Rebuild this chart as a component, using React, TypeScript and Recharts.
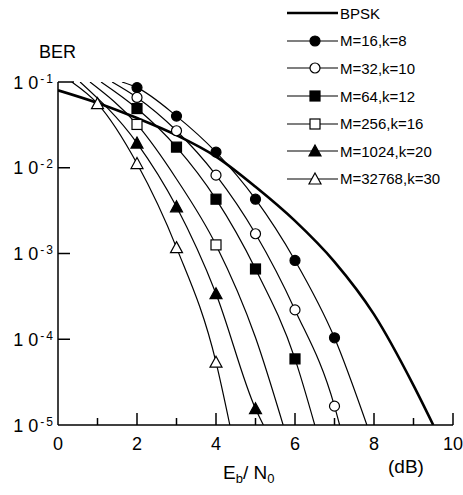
import { LineChart, Line, XAxis, YAxis, Legend } from 'recharts';

// BER vs Eb/N0 (log scale)
const FONT = '"Liberation Sans", Arial, Helvetica, sans-serif';

const xTicks = [0, 1, 2, 3, 4, 5, 6, 7, 8, 9, 10];
const yTicks = [1e-1, 1e-2, 1e-3, 1e-4, 1e-5];
const yTickExp = ['-1', '-2', '-3', '-4', '-5'];

const bpskX = [0, 1, 2, 3, 4, 5, 6, 7, 8, 9, 9.5];
const bpskBer = [0.08, 0.057, 0.038, 0.024, 0.0135, 0.006, 0.0024, 8e-4, 1.95e-4, 2.9e-5, 1e-5];

const m16X = [1.62, 2, 3, 4, 5, 6, 7, 7.82];
const m16Ber = [0.1, 0.086, 0.04, 0.0152, 0.0043, 8.3e-4, 1.04e-4, 1e-5];
const m16Marks = [2, 3, 4, 5, 6, 7];

const m32X = [1.37, 2, 3, 4, 5, 6, 7, 7.13];
const m32Ber = [0.1, 0.066, 0.027, 0.0082, 0.0017, 2.2e-4, 1.66e-5, 1e-5];
const m32Marks = [2, 3, 4, 5, 6, 7];

const m64X = [1.09, 2, 3, 4, 5, 6, 6.5];
const m64Ber = [0.1, 0.049, 0.0174, 0.0043, 6.6e-4, 5.9e-5, 1e-5];
const m64Marks = [2, 3, 4, 5, 6];

const m256X = [0.81, 2, 3, 4, 5, 5.7];
const m256Ber = [0.1, 0.032, 0.0074, 0.00126, 1.05e-4, 1e-5];
const m256Marks = [2, 4];

const m1024X = [0.56, 2, 3, 4, 5, 5.2];
const m1024Ber = [0.1, 0.0194, 0.0035, 3.4e-4, 1.55e-5, 1e-5];
const m1024Marks = [2, 3, 4, 5];

const m32768X = [0.35, 1, 2, 3, 4, 4.35];
const m32768Ber = [0.1, 0.056, 0.0112, 0.00117, 5.4e-5, 1e-5];
const m32768Marks = [1, 2, 3, 4];

type Shape = 'none' | 'circle' | 'square' | 'triangle';

const toRows = (xs: number[], ber: number[], marks: number[]) =>
  xs.map((x, i) => ({ x, y: ber[i], mark: marks.includes(x) }));

const series = [
  { name: 'BPSK', data: toRows(bpskX, bpskBer, []), shape: 'none' as Shape, filled: true, width: 2.6 },
  { name: 'M=16,k=8', data: toRows(m16X, m16Ber, m16Marks), shape: 'circle' as Shape, filled: true, width: 1.2 },
  { name: 'M=32,k=10', data: toRows(m32X, m32Ber, m32Marks), shape: 'circle' as Shape, filled: false, width: 1.2 },
  { name: 'M=64,k=12', data: toRows(m64X, m64Ber, m64Marks), shape: 'square' as Shape, filled: true, width: 1.2 },
  { name: 'M=256,k=16', data: toRows(m256X, m256Ber, m256Marks), shape: 'square' as Shape, filled: false, width: 1.2 },
  { name: 'M=1024,k=20', data: toRows(m1024X, m1024Ber, m1024Marks), shape: 'triangle' as Shape, filled: true, width: 1.2 },
  { name: 'M=32768,k=30', data: toRows(m32768X, m32768Ber, m32768Marks), shape: 'triangle' as Shape, filled: false, width: 1.2 },
];

const Marker = ({ cx, cy, shape, filled }: { cx: number; cy: number; shape: Shape; filled: boolean }) => {
  const fill = filled ? '#000' : '#fff';
  if (shape === 'circle') return <circle cx={cx} cy={cy} r={5} fill={fill} stroke="#000" strokeWidth={1.2} />;
  if (shape === 'square') return <rect x={cx - 5} y={cy - 5} width={10} height={10} fill={fill} stroke="#000" strokeWidth={1.2} />;
  if (shape === 'triangle')
    return <polygon points={`${cx},${cy - 6} ${cx + 6},${cy + 5} ${cx - 6},${cy + 5}`} fill={fill} stroke="#000" strokeWidth={1.2} />;
  return null;
};

const XTick = ({ x, y, payload }: any) => {
  const v = payload.value;
  const major = v % 2 === 0;
  return (
    <g>
      {v > 0 && <line x1={x} y1={y} x2={x} y2={y - (major ? 12 : 7)} stroke="#000" strokeWidth={1.5} />}
      {major && (
        <text x={x} y={y + 25} textAnchor="middle" fontSize={18} fontFamily={FONT} fill="#000">
          {v}
        </text>
      )}
    </g>
  );
};

const YTick = ({ x, y, index }: any) => (
  <g>
    {index < yTicks.length - 1 && (
      <line x1={x} y1={y} x2={x + (index === 0 ? 16 : 12)} y2={y} stroke="#000" strokeWidth={1.5} />
    )}
    <text x={x - 3} y={y + 6.5} textAnchor="end" fontFamily={FONT} fill="#000">
      <tspan fontSize={18}>1 0</tspan>
      <tspan fontSize={12} dy={-6} dx={2} letterSpacing={2}>
        {yTickExp[index]}
      </tspan>
    </text>
  </g>
);

const XLabel = ({ viewBox }: any) => {
  const { x, y } = viewBox;
  return (
    <g fontFamily={FONT} fill="#000">
      <text x={x + 165} y={y + 54} fontSize={19}>
        E<tspan fontSize={13} dy={4}>b</tspan>
        <tspan dy={-4}>/ N</tspan>
        <tspan fontSize={13} dy={4}>0</tspan>
      </text>
      <text x={x + 330} y={y + 48} fontSize={19}>(dB)</text>
    </g>
  );
};

const YLabel = ({ viewBox }: any) => {
  const { x, y } = viewBox;
  return (
    <text x={x + 39} y={y - 24} fontSize={18} fontFamily={FONT} fill="#000">
      BER
    </text>
  );
};

const LegendContent = () => (
  <div style={{ fontFamily: FONT, fontSize: 15, color: '#000' }}>
    {series.map((s) => (
      <div key={s.name} style={{ display: 'flex', alignItems: 'center', height: 27.6 }}>
        <svg width={55} height={20}>
          <line x1={2} y1={10} x2={53} y2={10} stroke="#000" strokeWidth={s.width} />
          <Marker cx={30} cy={10} shape={s.shape} filled={s.filled} />
        </svg>
        <span>{s.name}</span>
      </div>
    ))}
  </div>
);

export default function App() {
  return (
    <div style={{ position: 'absolute', left: 0, top: 0, background: '#fff' }}>
      <LineChart width={463} height={495} margin={{ top: 82, right: 10, bottom: 0, left: 0 }}>
        <XAxis
          type="number"
          dataKey="x"
          domain={[0, 10]}
          ticks={xTicks}
          allowDataOverflow
          height={70}
          tickSize={0}
          tickMargin={0}
          tickLine={false}
          axisLine={{ stroke: '#000', strokeWidth: 1.5 }}
          tick={<XTick />}
          interval={0}
          label={<XLabel />}
        />
        <YAxis
          type="number"
          scale="log"
          domain={[1e-5, 1e-1]}
          ticks={yTicks}
          allowDataOverflow
          width={58}
          tickSize={0}
          tickMargin={0}
          tickLine={false}
          axisLine={{ stroke: '#000', strokeWidth: 1.5 }}
          tick={<YTick />}
          interval={0}
          label={<YLabel />}
        />
        <Legend
          layout="vertical"
          align="center"
          verticalAlign="middle"
          content={<LegendContent />}
          wrapperStyle={{ top: -0.5, left: 285, width: 178 }}
        />
        {series.map((s) => (
          <Line
            key={s.name}
            name={s.name}
            data={s.data}
            dataKey="y"
            type="monotone"
            stroke="#000"
            strokeWidth={s.width}
            isAnimationActive={false}
            activeDot={false}
            dot={(p: any) =>
              p.payload.mark ? (
                <Marker key={`${s.name}-${p.index}`} cx={p.cx} cy={p.cy} shape={s.shape} filled={s.filled} />
              ) : (
                <g key={`${s.name}-${p.index}`} />
              )
            }
          />
        ))}
      </LineChart>
    </div>
  );
}
